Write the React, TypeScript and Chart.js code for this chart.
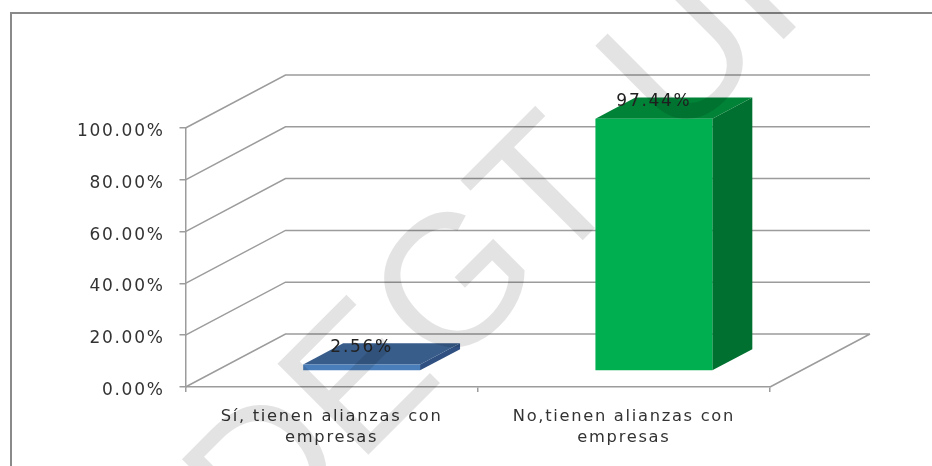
import React, { useEffect, useRef } from "react";
import { Chart, registerables } from "chart.js";

Chart.register(...registerables);

const categories = [
  ["Sí, tienen alianzas con", "empresas"],
  ["No,tienen alianzas con", "empresas"],
];
const percentValues = [2.56, 97.44];
const frontColors = ["#4a7ebb", "#00b050"];
const topColors = ["#385d8a", "#008237"];
const sideColors = ["#2f5080", "#007030"];
const watermarkText = "DEGT UI";

const AXIS_GREY = "#9c9c9c";
const TEXT = "#333333";
const FONT = '"DejaVu Sans", sans-serif';
const WALL_DX = 100;
const WALL_DY = -53;
const BAR_INSET = 0.3;
const BAR_DEPTH = 0.4;
const SPACING = "1.7px";

const threeD = {
  id: "threeD",
  beforeDraw(chart: any) {
    const { ctx } = chart;
    ctx.letterSpacing = SPACING;
    ctx.save();
    ctx.strokeStyle = "#8a8a8a";
    ctx.lineWidth = 2;
    ctx.beginPath();
    ctx.moveTo(11, 466);
    ctx.lineTo(11, 13);
    ctx.lineTo(932, 13);
    ctx.stroke();
    ctx.restore();
  },
  beforeDatasetsDraw(chart: any) {
    const { ctx, chartArea, scales } = chart;
    const { left, right, bottom } = chartArea;
    ctx.save();
    ctx.strokeStyle = AXIS_GREY;
    ctx.lineWidth = 1.5;
    ctx.beginPath();
    scales.y.ticks.forEach((t: any) => {
      const y = scales.y.getPixelForValue(t.value);
      ctx.moveTo(left, y);
      ctx.lineTo(left + WALL_DX, y + WALL_DY);
      ctx.lineTo(right + WALL_DX, y + WALL_DY);
    });
    ctx.moveTo(right, bottom);
    ctx.lineTo(right + WALL_DX, bottom + WALL_DY);
    ctx.stroke();
    ctx.restore();

    ctx.save();
    ctx.translate(WALL_DX * BAR_INSET, WALL_DY * BAR_INSET);
    const dx = WALL_DX * BAR_DEPTH;
    const dy = WALL_DY * BAR_DEPTH;
    chart.getDatasetMeta(0).data.forEach((bar: any, i: number) => {
      const half = bar.width / 2;
      const l = bar.x - half;
      const r = bar.x + half;
      ctx.fillStyle = sideColors[i];
      ctx.beginPath();
      ctx.moveTo(r, bar.y);
      ctx.lineTo(r + dx, bar.y + dy);
      ctx.lineTo(r + dx, bar.base + dy);
      ctx.lineTo(r, bar.base);
      ctx.closePath();
      ctx.fill();
      ctx.fillStyle = topColors[i];
      ctx.beginPath();
      ctx.moveTo(l, bar.y);
      ctx.lineTo(l + dx, bar.y + dy);
      ctx.lineTo(r + dx, bar.y + dy);
      ctx.lineTo(r, bar.y);
      ctx.closePath();
      ctx.fill();
    });
  },
  afterDatasetsDraw(chart: any) {
    const { ctx } = chart;
    ctx.restore();
    ctx.save();
    ctx.font = `17px ${FONT}`;
    ctx.fillStyle = "#222222";
    ctx.textAlign = "center";
    ctx.textBaseline = "middle";
    chart.getDatasetMeta(0).data.forEach((bar: any, i: number) => {
      ctx.fillText(
        `${percentValues[i].toFixed(2)}%`,
        bar.x + WALL_DX * BAR_INSET,
        bar.y + WALL_DY * BAR_INSET - 17,
      );
    });
    ctx.restore();
    ctx.letterSpacing = "0px";
    ctx.save();
    ctx.translate(262, 561);
    ctx.rotate(-Math.PI / 4);
    ctx.font = '187px "Liberation Sans", sans-serif';
    ctx.wordSpacing = "14px";
    ctx.fillStyle = "rgba(0,0,0,0.11)";
    ctx.textAlign = "left";
    ctx.textBaseline = "alphabetic";
    ctx.fillText(watermarkText, 0, 0);
    ctx.wordSpacing = "0px";
    ctx.restore();
  },
};

export default function App() {
  const ref = useRef<HTMLCanvasElement>(null);
  useEffect(() => {
    document.body.style.margin = "0";
    const chart = new Chart(ref.current!, {
      type: "bar",
      data: {
        labels: categories,
        datasets: [
          {
            data: percentValues,
            backgroundColor: frontColors,
            borderWidth: 0,
            barPercentage: 1,
            categoryPercentage: 0.4,
          },
        ],
      },
      plugins: [threeD],
      options: {
        animation: false,
        responsive: false,
        layout: { padding: { left: 0, right: 162, top: 128, bottom: 0 } },
        plugins: { legend: { display: false }, tooltip: { enabled: false } },
        scales: {
          x: {
            afterFit(s: any) {
              s.height = 79;
            },
            grid: { drawOnChartArea: false, color: AXIS_GREY, tickLength: 5, lineWidth: 1.5 },
            border: { color: AXIS_GREY, width: 1.5 },
            ticks: {
              color: TEXT,
              padding: 14,
              maxRotation: 0,
              autoSkip: false,
              font: { family: FONT, size: 16.3, lineHeight: 1.29 },
            },
          },
          y: {
            min: 0,
            max: 100,
            afterFit(s: any) {
              s.width = 185.5;
            },
            grid: { drawOnChartArea: false, color: AXIS_GREY, tickLength: 6, lineWidth: 1.5 },
            border: { color: AXIS_GREY, width: 1.5 },
            ticks: {
              stepSize: 20,
              color: TEXT,
              padding: 15,
              labelOffset: 3.5,
              callback: (v: any) => `${Number(v).toFixed(2)}%`,
              font: { family: FONT, size: 17 },
            },
          },
        },
      },
    });
    return () => chart.destroy();
  }, []);
  return (
    <canvas
      ref={ref}
      width={932}
      height={466}
      style={{ display: "block", width: 932, height: 466, filter: "blur(0.45px)" }}
    />
  );
}
